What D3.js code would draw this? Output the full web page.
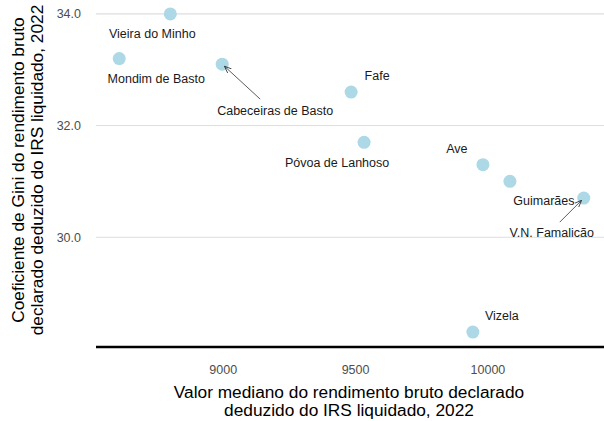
<!DOCTYPE html>
<html>
<head>
<meta charset="utf-8">
<script src="https://cdn.jsdelivr.net/npm/d3@7"></script>
<style>
  body { margin: 0; background: #fff; }
  svg { font-family: "Liberation Sans", Arial, sans-serif; }
</style>
</head>
<body>
<div id="chart"></div>
<script>
// municipalities and their values
const places = ["Vieira do Minho", "Mondim de Basto", "Cabeceiras de Basto", "Fafe",
  "Póvoa de Lanhoso", "Ave", "Guimarães", "V.N. Famalicão", "Vizela"];
const medianIncome = [8802, 8609, 8998, 9485, 9534, 9983, 10085, 10364, 9945];
const giniIndex = [34.0, 33.2, 33.1, 32.6, 31.7, 31.3, 31.0, 30.7, 28.3];
const xTicks = [9000, 9500, 10000];
const yTicks = [30, 32, 34];

// label placement: pixel offset of label centre from its point,
// plus optional start of the connector segment (repel-style)
const labelNudge = {
  "Vieira do Minho": [-18, 20],
  "Mondim de Basto": [37, 20],
  "Cabeceiras de Basto": [53, 46, 38, 35],
  "Fafe": [26, -16],
  "Póvoa de Lanhoso": [-27, 20],
  "Ave": [-26, -16],
  "Guimarães": [34, 19],
  "V.N. Famalicão": [-32, 35, -24, 24],
  "Vizela": [29, -16]
};

const data = places.map((p, i) => ({ name: p, x: medianIncome[i], y: giniIndex[i] }));

const svgWidth = 604, svgHeight = 421;
const panel = { left: 96, right: 604, top: 0, bottom: 348 };

// ggplot-like 5% expansion around the data
function expand(ext) {
  const pad = (ext[1] - ext[0]) * 0.05;
  return [ext[0] - pad, ext[1] + pad];
}

const x = d3.scaleLinear()
  .domain(expand(d3.extent(medianIncome)))
  .range([panel.left, 607]);

const y = d3.scaleLinear()
  .domain(expand(d3.extent(giniIndex)))
  .range([panel.bottom, -2]);

const svg = d3.select("#chart").append("svg")
  .attr("width", svgWidth)
  .attr("height", svgHeight);

svg.append("defs").append("marker")
  .attr("id", "arrow")
  .attr("viewBox", "0 0 10 10")
  .attr("refX", 10).attr("refY", 5)
  .attr("markerWidth", 7).attr("markerHeight", 7)
  .attr("markerUnits", "userSpaceOnUse")
  .attr("orient", "auto")
  .append("path")
  .attr("d", "M0,1 L10,5 L0,9")
  .attr("fill", "none")
  .attr("stroke", "#333")
  .attr("stroke-width", 1.2);

// horizontal grid
svg.append("g")
  .selectAll("line")
  .data(yTicks)
  .enter().append("line")
  .attr("x1", panel.left).attr("x2", panel.right)
  .attr("y1", d => y(d)).attr("y2", d => y(d))
  .attr("stroke", "#dedede")
  .attr("stroke-width", 1.1);

// y axis (labels only)
const yAxis = svg.append("g")
  .attr("transform", `translate(${panel.left},0)`)
  .call(d3.axisLeft(y).tickValues(yTicks).tickFormat(d3.format(".1f")).tickSize(0).tickPadding(15));
yAxis.select(".domain").remove();
yAxis.selectAll("text").attr("fill", "#4d4d4d").style("font-size", "12.5px");

// x axis
const xAxis = svg.append("g")
  .attr("transform", `translate(0,${panel.bottom})`)
  .call(d3.axisBottom(x).tickValues(xTicks).tickFormat(d3.format("d")).tickSize(0).tickPadding(17));
xAxis.select(".domain").remove();
xAxis.selectAll("text").attr("fill", "#4d4d4d").style("font-size", "12.5px");

svg.append("line")
  .attr("x1", panel.left).attr("x2", panel.right)
  .attr("y1", panel.bottom - 1).attr("y2", panel.bottom - 1)
  .attr("stroke", "#000")
  .attr("stroke-width", 2.5);

// points
svg.append("g")
  .selectAll("circle")
  .data(data)
  .enter().append("circle")
  .attr("cx", d => x(d.x))
  .attr("cy", d => y(d.y))
  .attr("r", 6.5)
  .attr("fill", "#ADD8E6");

// connector segments, stopping just short of the point centre
const segs = data.filter(d => labelNudge[d.name].length > 2).map(d => {
  const n = labelNudge[d.name];
  const len = Math.hypot(n[2], n[3]);
  return {
    x1: x(d.x) + n[2], y1: y(d.y) + n[3],
    x2: x(d.x) + n[2] / len * 3, y2: y(d.y) + n[3] / len * 3
  };
});

svg.append("g")
  .selectAll("line")
  .data(segs)
  .enter().append("line")
  .attr("x1", d => d.x1).attr("y1", d => d.y1)
  .attr("x2", d => d.x2).attr("y2", d => d.y2)
  .attr("stroke", "#333")
  .attr("stroke-width", 0.8)
  .attr("marker-end", "url(#arrow)");

// labels
svg.append("g")
  .selectAll("text")
  .data(data)
  .enter().append("text")
  .attr("x", d => x(d.x) + labelNudge[d.name][0])
  .attr("y", d => y(d.y) + labelNudge[d.name][1])
  .attr("dy", "0.35em")
  .attr("text-anchor", "middle")
  .attr("fill", "#1a1a1a")
  .style("font-size", "12.5px")
  .text(d => d.name);

// axis titles
const xTitle = svg.append("text")
  .attr("text-anchor", "middle")
  .attr("fill", "#000")
  .style("font-size", "17.3px");
xTitle.append("tspan").attr("x", 349).attr("y", 398).text("Valor mediano do rendimento bruto declarado");
xTitle.append("tspan").attr("x", 349).attr("y", 416).text("deduzido do IRS liquidado, 2022");

const yTitle = svg.append("text")
  .attr("transform", "translate(0,170) rotate(-90)")
  .attr("text-anchor", "middle")
  .attr("fill", "#000")
  .style("font-size", "17.3px");
yTitle.append("tspan").attr("x", 0).attr("y", 24).text("Coeficiente de Gini do rendimento bruto");
yTitle.append("tspan").attr("x", 0).attr("y", 43).text("declarado deduzido do IRS liquidado, 2022");
</script>
</body>
</html>
